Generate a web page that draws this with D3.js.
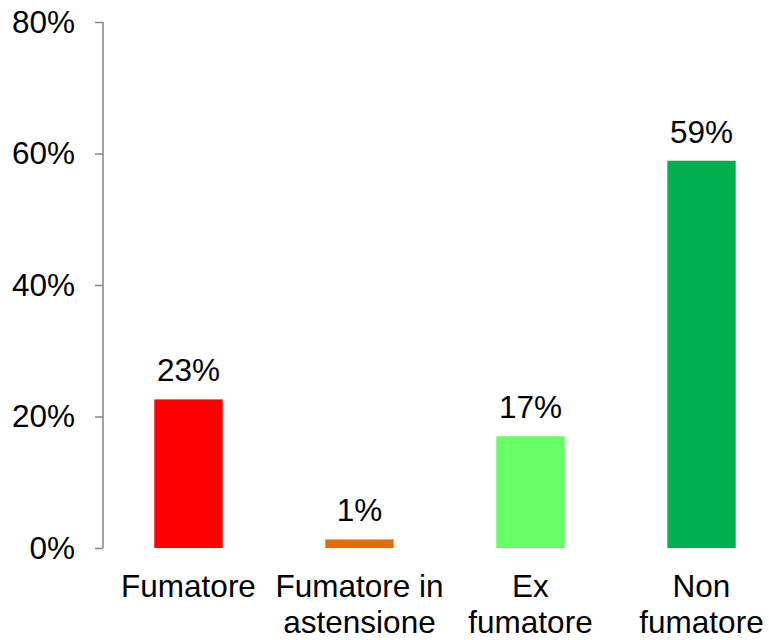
<!DOCTYPE html>
<html>
<head>
<meta charset="utf-8">
<script src="https://cdn.jsdelivr.net/npm/d3@7"></script>
<style>
  body { margin: 0; background: #fff; }
  text { font-family: "Liberation Sans", Arial, sans-serif; fill: #000; }
</style>
</head>
<body>
<div id="chart"></div>
<script>
// categories (label lines) and values in percent
var categories = ["Fumatore", "Fumatore in astensione", "Ex fumatore", "Non fumatore"];
var labelLines = [["Fumatore"], ["Fumatore in", "astensione"], ["Ex", "fumatore"], ["Non", "fumatore"]];
var values = [22.6, 1.3, 17.0, 58.9];
var valueLabels = ["23%", "1%", "17%", "59%"];
var barColors = ["#ff0000", "#e36c09", "#66ff66", "#00b050"];
var yTicks = [0, 20, 40, 60, 80];

var width = 769, height = 640;
var margin = { left: 103, top: 22, bottom: 92 };
var fontSize = "31.5px";

var svg = d3.select("#chart").append("svg")
    .attr("width", width)
    .attr("height", height);

var x = d3.scaleBand()
    .domain(categories)
    .range([margin.left, 787])
    .paddingInner(0.6)
    .paddingOuter(0.3);

var y = d3.scaleLinear()
    .domain([0, 80])
    .range([height - margin.bottom, margin.top]);

// y axis
var yAxis = svg.append("g")
    .attr("transform", "translate(" + margin.left + ",0)")
    .call(d3.axisLeft(y).tickValues(yTicks).tickSize(8).tickPadding(20)
        .tickFormat(function(d) { return d + "%"; }));
yAxis.selectAll("line").attr("stroke", "#868686").attr("stroke-width", 1.5);
yAxis.select(".domain").attr("stroke", "#868686").attr("stroke-width", 1.5)
    .attr("d", "M0," + y(80) + "V" + y(0));
yAxis.selectAll("text").style("font-size", fontSize).attr("fill", "#000");

// bars
svg.append("g").selectAll("rect")
    .data(values)
    .enter().append("rect")
    .attr("x", function(d, i) { return x(categories[i]); })
    .attr("y", function(d) { return y(d); })
    .attr("width", x.bandwidth())
    .attr("height", function(d) { return y(0) - y(d); })
    .attr("fill", function(d, i) { return barColors[i]; });

// value labels
svg.append("g").selectAll("text")
    .data(values)
    .enter().append("text")
    .attr("x", function(d, i) { return x(categories[i]) + x.bandwidth() / 2; })
    .attr("y", function(d) { return y(d) - 18; })
    .attr("text-anchor", "middle")
    .style("font-size", fontSize)
    .text(function(d, i) { return valueLabels[i]; });

// category labels
var cat = svg.append("g").selectAll("text")
    .data(labelLines)
    .enter().append("text")
    .attr("x", function(d, i) { return x(categories[i]) + x.bandwidth() / 2; })
    .attr("y", 597)
    .attr("text-anchor", "middle")
    .style("font-size", fontSize);

cat.selectAll("tspan")
    .data(function(d) { return d; })
    .enter().append("tspan")
    .attr("x", function() { return this.parentNode.getAttribute("x"); })
    .attr("dy", function(d, i) { return i === 0 ? 0 : 36; })
    .text(function(d) { return d; });
</script>
</body>
</html>
